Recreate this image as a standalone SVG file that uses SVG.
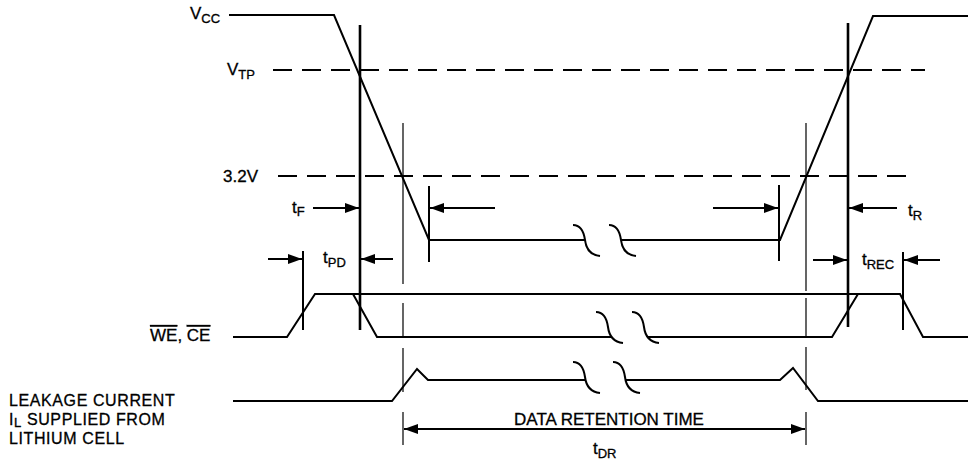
<svg xmlns="http://www.w3.org/2000/svg" width="968" height="463" viewBox="0 0 968 463">
<style>
.sig{fill:none;stroke:#000;stroke-width:2;stroke-linejoin:miter}
.thick{fill:none;stroke:#000;stroke-width:2.6}
.thin{fill:none;stroke:#000;stroke-width:1.2}
.dash{fill:none;stroke:#000;stroke-width:1.8;stroke-dasharray:19 10}
.arr{fill:none;stroke:#000;stroke-width:2}
.sq{fill:none;stroke:#000;stroke-width:2}
text{font-family:"Liberation Sans",Arial,sans-serif;font-size:17px;fill:#000;stroke:#000;stroke-width:0.3}
.sub{font-size:13px}
.blk{font-size:16px;letter-spacing:0.6px}
</style>
<defs>
<marker id="ah" viewBox="0 0 14 10" refX="14" refY="5" markerWidth="14" markerHeight="10" markerUnits="userSpaceOnUse" orient="auto-start-reverse">
<path d="M0,0 L14,5 L0,10 Z" fill="#000"/>
</marker>
<path id="squig" d="M0,0 C8,0 11,8 12,15 C13,23 17,30 27,31"/>
</defs>
<rect width="968" height="463" fill="#fff"/>

<g id="labels">
<text x="190" y="19">V<tspan class="sub" dy="4">CC</tspan></text>
<text x="227" y="75">V<tspan class="sub" dy="4">TP</tspan></text>
<text x="223" y="182">3.2V</text>
<text x="292" y="213">t<tspan class="sub" dy="3">F</tspan></text>
<text x="323" y="263">t<tspan class="sub" dy="4">PD</tspan></text>
<text x="908" y="216">t<tspan class="sub" dy="4">R</tspan></text>
<text x="862" y="265">t<tspan class="sub" dy="4">REC</tspan></text>
<text x="150" y="341"><tspan text-decoration="overline">WE</tspan>, <tspan text-decoration="overline">CE</tspan></text>
<text class="blk" x="9" y="406">LEAKAGE CURRENT</text>
<text class="blk" x="9" y="425">I<tspan class="sub" dy="2">L</tspan><tspan dy="-2"> SUPPLIED FROM</tspan></text>
<text class="blk" x="9" y="444">LITHIUM CELL</text>
<text x="609" y="425" text-anchor="middle">DATA RETENTION TIME</text>
<text x="593" y="454">t<tspan class="sub" dy="4">DR</tspan></text>
</g>

<g id="levels">
<line class="dash" x1="273" y1="70" x2="925" y2="70"/>
<line class="dash" x1="278" y1="176" x2="912" y2="176"/>
</g>

<g id="vcc">
<polyline class="sig" points="229,15 334,15 429,240 585,240"/>
<polyline class="sig" points="621,240 780,240 873,16 968,16"/>
<use href="#squig" class="sq" x="573" y="225"/>
<use href="#squig" class="sq" x="609" y="225"/>
</g>

<g id="we-ce">
<polyline class="sig" points="233,337 287,337 315,294 900,294 923,337 968,337"/>
<polyline class="sig" points="315,294 353,294 377,337 612,337"/>
<polyline class="sig" points="648,337 832,337 858,294"/>
<use href="#squig" class="sq" x="596" y="312"/>
<use href="#squig" class="sq" x="632" y="312"/>
</g>

<g id="leakage">
<polyline class="sig" points="233,401 392,401 417,369 428,380 586,380"/>
<polyline class="sig" points="626,380 780,380 793,368 818,401 968,401"/>
<use href="#squig" class="sq" x="573" y="362"/>
<use href="#squig" class="sq" x="613" y="362"/>
</g>

<g id="markers">
<line class="thick" x1="360" y1="25" x2="360" y2="330"/>
<line class="thick" x1="848" y1="23" x2="848" y2="327"/>
<line class="sig" x1="303" y1="251" x2="303" y2="330"/>
<line class="sig" x1="903" y1="252" x2="903" y2="330"/>
<line class="sig" x1="429" y1="186" x2="429" y2="262"/>
<line class="sig" x1="779" y1="185" x2="779" y2="261"/>
<path class="thin" d="M403,123 V284 M403,303 V338 M403,348 V392 M403,412 V445"/>
<path class="thin" d="M806,123 V291 M806,298 V337 M806,347 V390 M806,412 V445"/>
</g>

<g id="connectors">
<line class="arr" x1="313" y1="208" x2="359" y2="208" marker-end="url(#ah)"/>
<line class="arr" x1="495" y1="208" x2="430" y2="208" marker-end="url(#ah)"/>
<line class="arr" x1="713" y1="208" x2="778" y2="208" marker-end="url(#ah)"/>
<line class="arr" x1="897" y1="208" x2="849" y2="208" marker-end="url(#ah)"/>
<line class="arr" x1="268" y1="259" x2="302" y2="259" marker-end="url(#ah)"/>
<line class="arr" x1="393" y1="259" x2="361" y2="259" marker-end="url(#ah)"/>
<line class="arr" x1="813" y1="260" x2="847" y2="260" marker-end="url(#ah)"/>
<line class="arr" x1="940" y1="260" x2="904" y2="260" marker-end="url(#ah)"/>
<line class="arr" x1="404" y1="429" x2="805" y2="429" marker-start="url(#ah)" marker-end="url(#ah)"/>
</g>
</svg>
